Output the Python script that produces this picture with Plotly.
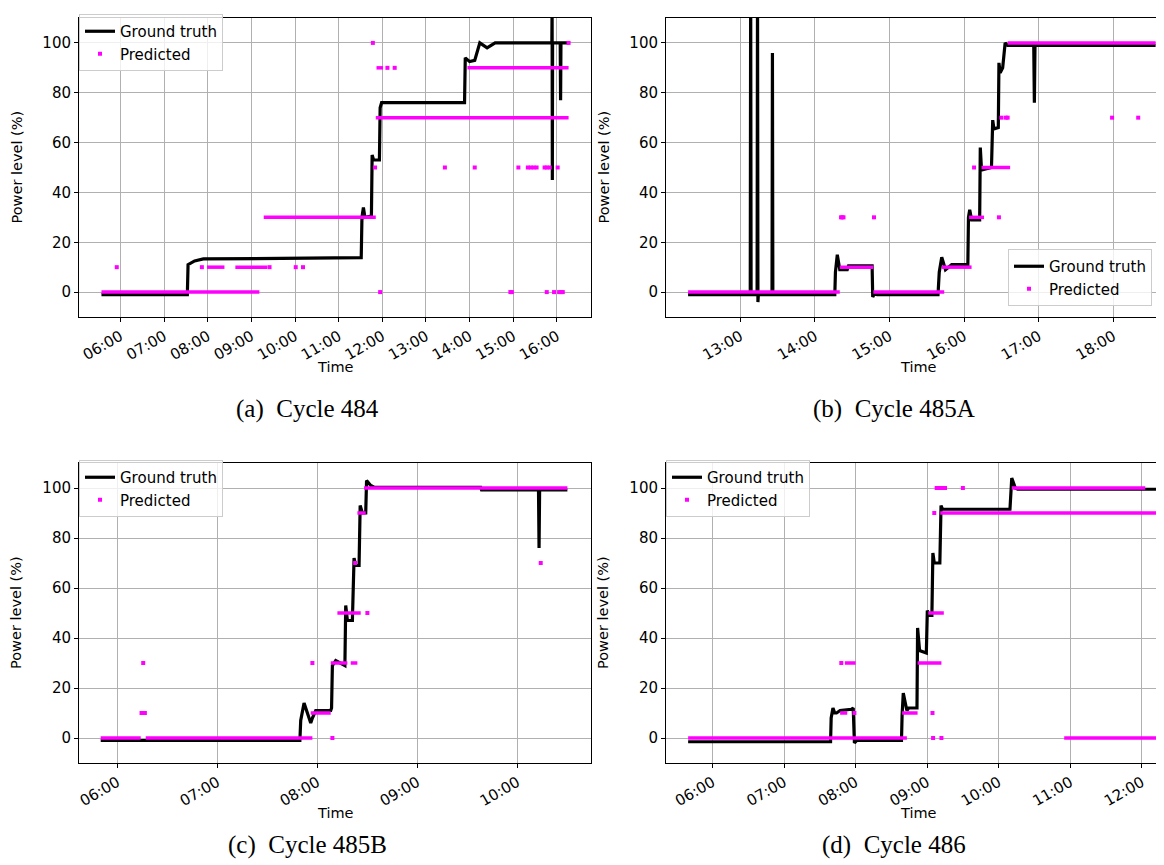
import plotly.graph_objects as go

DAY = "2019-01-01 "

# ---------------- Panel (a) Cycle 484 ----------------
a_gt_time = ["05:34", "07:32", "07:33", "07:42", "07:54", "09:00", "11:31", "11:32", "11:34", "11:36",
             "11:45", "11:46", "11:48", "11:56", "11:57", "11:59", "13:53", "13:54", "14:00", "14:07",
             "14:14", "14:24", "14:35", "15:53:00", "15:53:20", "15:53:40", "15:54:00", "16:04:30",
             "16:05:00", "16:05:30", "16:16"]
a_gt_value = [-1, -1, 11, 12.5, 13.3, 13.5, 13.8, 30, 34, 30,
              30.5, 55, 53, 53, 74, 76, 76, 94, 92.5, 93,
              100, 98, 100, 100, 115, 45, 100, 100,
              77, 100, 100]
a_run_start = ["05:34", "07:59", "08:38", "09:17", "11:52", "11:51", "13:57"]
a_run_end = ["09:11", "08:23", "09:22", "11:51", "12:01", "16:16", "16:16"]
a_run_level = [0, 10, 10, 30, 90, 70, 90]
a_dot_time = ["05:55", "07:52", "09:25", "10:01", "10:11", "12:07", "12:17", "11:47", "16:16",
              "11:50", "13:26", "14:07", "15:07", "15:20", "15:24", "15:28", "15:32", "15:43",
              "15:46", "15:50", "16:01",
              "11:57", "14:56", "14:58", "15:46", "15:56", "16:03", "16:06", "16:08"]
a_dot_level = [10, 10, 10, 10, 10, 90, 90, 100, 100,
               50, 50, 50, 50, 50, 50, 50, 50, 50,
               50, 50, 50,
               0, 0, 0, 0, 0, 0, 0, 0]

# ---------------- Panel (b) Cycle 485A ----------------
b_gt_time = ["12:18", "13:08:00", "13:08:20", "13:08:40", "13:13:30", "13:13:50", "13:14:10", "13:14:30",
             "13:25:30", "13:25:50", "13:26:10", "14:16", "14:16:30", "14:18", "14:20", "14:26", "14:27",
             "14:46", "14:46:30", "14:48", "14:50", "15:39", "15:40", "15:42", "15:45", "15:48", "15:50",
             "16:03", "16:03:30", "16:04:30", "16:06", "16:12:30", "16:13", "16:14", "16:22", "16:23",
             "16:24", "16:27:30", "16:28", "16:29", "16:31", "16:33", "16:35", "16:56", "16:56:30",
             "16:57", "18:34"]
b_gt_value = [-1, -1, 125, -1, -1, 125, -4, -1,
              -1, 96, -1, -1, 8, 15, 9, 9, 10.5,
              10.5, -2, -0.5, -1, -1, 8, 14, 9, 10, 11,
              11, 30, 33, 29, 29, 58, 49, 50, 69,
              65.5, 66, 92, 88, 90, 100, 99, 99, 76,
              99, 99]
b_run_start = ["12:18", "14:20", "14:47", "15:42", "16:04", "16:14", "16:35"]
b_run_end = ["14:20", "14:47", "15:44", "16:06", "16:16", "16:37", "18:34"]
b_run_level = [0, 10, 0, 10, 30, 50, 100]
b_dot_time = ["14:21", "14:22", "14:23", "14:47:30", "16:28", "16:08",
              "16:30", "16:33:30", "16:35", "17:59", "18:20"]
b_dot_level = [30, 30, 30, 30, 30, 50,
               70, 70, 70, 70, 70]

# ---------------- Panel (c) Cycle 485B ----------------
c_gt_time = ["05:50", "07:49:30", "07:50", "07:52", "07:53", "07:56", "07:57", "07:59", "08:08",
             "08:08:30", "08:09", "08:11", "08:16:30", "08:17", "08:18", "08:21", "08:22", "08:23",
             "08:25", "08:25:40", "08:27", "08:29", "08:29:30", "08:32", "08:34", "09:38",
             "09:38:30", "10:12:40", "10:13:00", "10:13:20", "10:30"]
c_gt_value = [-1, -1, 7, 14, 12, 6, 8, 11, 11,
              12, 29, 31, 29, 53, 47, 47, 72, 69,
              69, 93, 90, 90, 103, 101, 100.3, 100.3,
              99.2, 99.2, 76, 99.2, 99.2]
c_run_start = ["05:50", "06:17", "07:56", "08:08", "08:20", "08:12", "08:24", "08:28"]
c_run_end = ["06:14", "07:57", "08:08", "08:18", "08:24", "08:26", "08:29", "10:30"]
c_run_level = [0, 0, 10, 30, 30, 50, 90, 100]
c_dot_time = ["06:14:30", "06:15:30", "06:16:30", "06:15:30", "08:09", "07:57", "08:30", "08:22:40",
              "10:14"]
c_dot_level = [10, 10, 10, 30, 0, 30, 50, 70,
               70]

# ---------------- Panel (d) Cycle 486 ----------------
d_gt_time = ["05:39:30", "07:39", "07:39:30", "07:41", "07:42:30", "07:44", "07:47", "07:56:30", "07:58",
             "07:59", "08:01", "08:38:30", "08:39", "08:40", "08:43", "08:44:30", "08:51:30", "08:52",
             "08:53:40", "08:59:20", "09:00:10", "09:01:30", "09:04", "09:04:50", "09:06", "09:10:40",
             "09:11:40", "09:13", "10:09:30", "10:11", "10:14", "10:16", "12:12"]
d_gt_value = [-1.5, -1.5, 8, 12, 10, 10, 11, 11.5, 12,
              -2, -1, -1, 9, 18, 11, 12, 12, 44,
              35, 34, 51, 49, 49, 74, 70, 70,
              93, 91.5, 91.5, 104, 100, 99.5, 99.5]
d_run_start = ["05:39:30", "07:47", "07:51", "08:39", "08:52", "09:01", "09:11", "10:11", "10:55"]
d_run_end = ["08:43", "07:53", "08:00", "08:52", "09:12", "09:14", "12:12", "12:03", "12:12"]
d_run_level = [0, 10, 30, 10, 30, 50, 90, 100, 0]
d_dot_time = ["07:59", "07:48", "09:04:30", "09:05", "09:12", "09:06", "09:08", "09:10", "09:13",
              "09:15", "09:30"]
d_dot_level = [10, 30, 10, 0, 0, 90, 100, 100, 100,
               100, 100]

# axis ranges (time) for each panel
x_ranges = {
    "a": ["05:03:07", "16:46:48"],
    "b": ["12:00:14", "18:46:23"],
    "c": ["05:36:58", "10:44:10"],
    "d": ["05:20:56", "12:24:36"],
}
captions = {"a": "(a)\u00a0 Cycle 484", "b": "(b)\u00a0 Cycle 485A",
            "c": "(c)\u00a0 Cycle 485B", "d": "(d)\u00a0 Cycle 486"}

W, H = 1164, 865


def ts(lst):
    out = []
    for t in lst:
        if len(t) == 5:
            t = t + ":00"
        out.append(DAY + t)
    return out


panels = {
    "a": (a_gt_time, a_gt_value, a_run_start, a_run_end, a_run_level, a_dot_time, a_dot_level),
    "b": (b_gt_time, b_gt_value, b_run_start, b_run_end, b_run_level, b_dot_time, b_dot_level),
    "c": (c_gt_time, c_gt_value, c_run_start, c_run_end, c_run_level, c_dot_time, c_dot_level),
    "d": (d_gt_time, d_gt_value, d_run_start, d_run_end, d_run_level, d_dot_time, d_dot_level),
}

# pixel boxes for the plot areas (left, right, top, bottom)
boxes = {"a": (71, 583, 10, 309), "b": (658, 1163, 10, 309),
         "c": (71, 583, 455, 755), "d": (658, 1163, 455, 755)}
# legend placement (left edge px, top px)
legend_pos = {"a": (71, 6), "b": (1000, 241),
              "c": (71, 452), "d": (658, 452)}
# caption centres (px)
caption_pos = {"a": (299, 401), "b": (886, 401), "c": (299, 837), "d": (886, 837)}

MAGENTA = "#ff00ff"
FONT = "DejaVu Sans"

fig = go.Figure()
layout = {}
annotations = []

for i, key in enumerate(["a", "b", "c", "d"]):
    idx = "" if i == 0 else str(i + 1)
    gt_t, gt_v, rs, re_, rl, dt, dl = panels[key]
    leg = "legend" + idx
    xa, ya = "x" + idx, "y" + idx
    fig.add_trace(go.Scatter(x=ts(gt_t), y=gt_v, mode="lines", name="Ground truth",
                             line=dict(color="black", width=3.2), xaxis=xa, yaxis=ya,
                             legend=leg, showlegend=True))
    rx, ry = [], []
    st, en = ts(rs), ts(re_)
    for s, e, lv in zip(st, en, rl):
        rx += [s, e, None]
        ry += [lv, lv, None]
    fig.add_trace(go.Scatter(x=rx, y=ry, mode="lines", name="Predicted",
                             line=dict(color=MAGENTA, width=3.5), xaxis=xa, yaxis=ya,
                             legend=leg, showlegend=False))
    fig.add_trace(go.Scatter(x=ts(dt), y=dl, mode="markers", name="Predicted",
                             marker=dict(color=MAGENTA, size=4, symbol="square"),
                             xaxis=xa, yaxis=ya, legend=leg, showlegend=True))

    l, r, t, b = boxes[key]
    xr = ts(x_ranges[key])
    layout["xaxis" + idx] = dict(
        domain=[l / W, r / W], anchor=ya, type="date", range=xr,
        tickformat="%H:%M", dtick=3600000, tick0=DAY + "00:00:00", tickangle=-30,
        ticks="outside", ticklen=4, tickcolor="black", tickwidth=1,
        showline=True, linecolor="black", linewidth=1, mirror=True,
        showgrid=True, gridcolor="#b0b0b0", gridwidth=1, zeroline=False,
        tickfont=dict(family=FONT, size=15, color="black"), automargin=False)
    layout["yaxis" + idx] = dict(
        domain=[1 - b / H, 1 - t / H], anchor=xa, range=[-10, 110],
        tickvals=[0, 20, 40, 60, 80, 100], ticks="outside", ticklen=4, tickcolor="black",
        tickwidth=1, showline=True, linecolor="black", linewidth=1, mirror=True,
        showgrid=True, gridcolor="#b0b0b0", gridwidth=1, zeroline=False,
        tickfont=dict(family=FONT, size=15, color="black"), automargin=False)
    lx, ly = legend_pos[key]
    layout[leg] = dict(x=lx / W, y=1 - ly / H, xanchor="left", yanchor="top",
                       xref="paper", yref="paper", tracegroupgap=0,
                       bgcolor="rgba(255,255,255,0.8)", bordercolor="#cccccc", borderwidth=1,
                       font=dict(family=FONT, size=15, color="black"))
    # y label
    annotations.append(dict(text="Power level (%)", x=(l - 53) / W, y=1 - (t + b) / 2 / H,
                            xref="paper", yref="paper", showarrow=False, textangle=-90,
                            font=dict(family=FONT, size=14.5, color="black"),
                            xanchor="right", yanchor="middle"))
    # x label
    annotations.append(dict(text="Time", x=(l + r) / 2 / W, y=1 - (b + 50) / H,
                            xref="paper", yref="paper", showarrow=False,
                            font=dict(family=FONT, size=14.5, color="black"),
                            xanchor="center", yanchor="middle"))
    # caption
    cx, cy = caption_pos[key]
    annotations.append(dict(text=captions[key], x=cx / W, y=1 - cy / H,
                            xref="paper", yref="paper", showarrow=False,
                            font=dict(family="Liberation Serif", size=25, color="black"),
                            xanchor="center", yanchor="middle"))

fig.update_layout(**layout)
fig.update_layout(width=W, height=H, margin=dict(l=0, r=0, t=0, b=0),
                  paper_bgcolor="white", plot_bgcolor="white",
                  annotations=annotations, hovermode=False)

fig.write_html("out.html")
